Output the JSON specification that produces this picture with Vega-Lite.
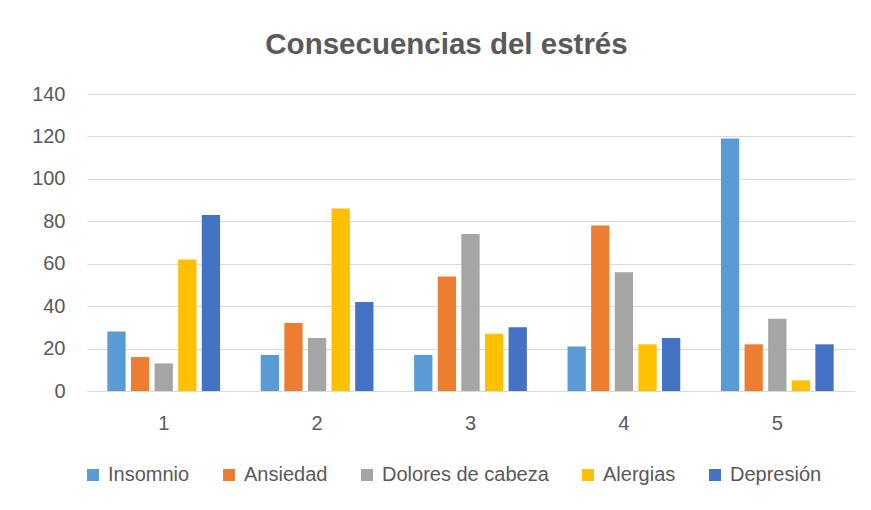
{
  "$schema": "https://vega.github.io/schema/vega-lite/v6.json",
  "width": 767,
  "height": 297,
  "autosize": {"type": "none"},
  "padding": {"left": 87, "top": 94, "right": 17, "bottom": 119},
  "background": "white",
  "title": {
    "text": "Consecuencias del estrés",
    "font": "Liberation Sans",
    "fontSize": 29.5,
    "fontWeight": "bold",
    "color": "#595959",
    "anchor": "middle",
    "frame": "group",
    "dx": -24,
    "offset": 24
  },
  "data": {
    "values": [
      {"grupo": "1", "serie": "Insomnio", "valor": 28},
      {"grupo": "1", "serie": "Ansiedad", "valor": 16},
      {"grupo": "1", "serie": "Dolores de cabeza", "valor": 13},
      {"grupo": "1", "serie": "Alergias", "valor": 62},
      {"grupo": "1", "serie": "Depresión", "valor": 83},
      {"grupo": "2", "serie": "Insomnio", "valor": 17},
      {"grupo": "2", "serie": "Ansiedad", "valor": 32},
      {"grupo": "2", "serie": "Dolores de cabeza", "valor": 25},
      {"grupo": "2", "serie": "Alergias", "valor": 86},
      {"grupo": "2", "serie": "Depresión", "valor": 42},
      {"grupo": "3", "serie": "Insomnio", "valor": 17},
      {"grupo": "3", "serie": "Ansiedad", "valor": 54},
      {"grupo": "3", "serie": "Dolores de cabeza", "valor": 74},
      {"grupo": "3", "serie": "Alergias", "valor": 27},
      {"grupo": "3", "serie": "Depresión", "valor": 30},
      {"grupo": "4", "serie": "Insomnio", "valor": 21},
      {"grupo": "4", "serie": "Ansiedad", "valor": 78},
      {"grupo": "4", "serie": "Dolores de cabeza", "valor": 56},
      {"grupo": "4", "serie": "Alergias", "valor": 22},
      {"grupo": "4", "serie": "Depresión", "valor": 25},
      {"grupo": "5", "serie": "Insomnio", "valor": 119},
      {"grupo": "5", "serie": "Ansiedad", "valor": 22},
      {"grupo": "5", "serie": "Dolores de cabeza", "valor": 34},
      {"grupo": "5", "serie": "Alergias", "valor": 5},
      {"grupo": "5", "serie": "Depresión", "valor": 22}
    ]
  },
  "mark": {"type": "bar"},
  "encoding": {
    "x": {
      "field": "grupo",
      "type": "nominal",
      "scale": {"paddingInner": 0.265, "paddingOuter": 0.1325},
      "axis": {
        "title": null,
        "labelAngle": 0,
        "domain": true,
        "domainColor": "#D9D9D9",
        "domainWidth": 1,
        "ticks": false,
        "labelPadding": 22,
        "labelFontSize": 20,
        "labelColor": "#595959",
        "labelFont": "Liberation Sans"
      }
    },
    "xOffset": {
      "field": "serie",
      "type": "nominal",
      "sort": ["Insomnio", "Ansiedad", "Dolores de cabeza", "Alergias", "Depresión"],
      "scale": {"paddingInner": 0.225, "paddingOuter": 0}
    },
    "y": {
      "field": "valor",
      "type": "quantitative",
      "scale": {"domain": [0, 140], "nice": false},
      "axis": {
        "title": null,
        "values": [0, 20, 40, 60, 80, 100, 120, 140],
        "domain": false,
        "ticks": false,
        "grid": true,
        "gridColor": "#D9D9D9",
        "gridWidth": 1,
        "labelPadding": 22,
        "labelFontSize": 20,
        "labelColor": "#595959",
        "labelFont": "Liberation Sans"
      }
    },
    "color": {
      "field": "serie",
      "type": "nominal",
      "scale": {
        "domain": ["Insomnio", "Ansiedad", "Dolores de cabeza", "Alergias", "Depresión"],
        "range": ["#5B9BD5", "#ED7D31", "#A5A5A5", "#FFC000", "#4472C4"]
      },
      "legend": {
        "title": null,
        "orient": "none",
        "legendX": -4,
        "legendY": 371,
        "direction": "horizontal",
        "symbolType": "square",
        "symbolSize": 144,
        "symbolStrokeWidth": 0,
        "labelFontSize": 20,
        "labelFont": "Liberation Sans",
        "labelColor": "#595959",
        "labelOffset": 5,
        "labelLimit": 400,
        "columnPadding": 29
      }
    }
  },
  "config": {
    "view": {"stroke": null}
  }
}
